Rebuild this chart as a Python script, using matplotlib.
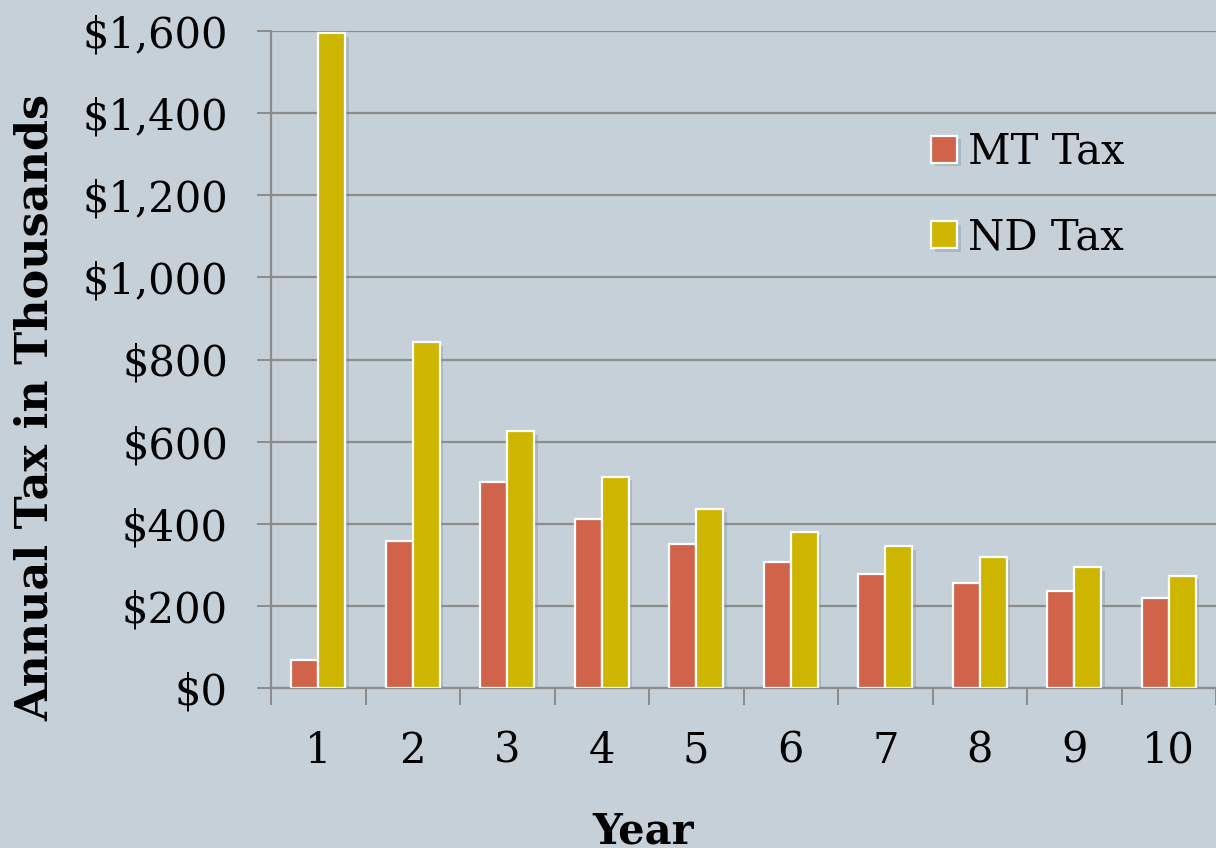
import numpy as np
import matplotlib
matplotlib.use("Agg")
import matplotlib.pyplot as plt
import matplotlib.patheffects as pe
from matplotlib.ticker import FuncFormatter, FixedLocator

years = [1, 2, 3, 4, 5, 6, 7, 8, 9, 10]
mt_tax = [69, 357, 502, 412, 350, 306, 278, 256, 236, 220]
nd_tax = [1595, 842, 625, 514, 436, 380, 345, 319, 294, 273]

bg = "#c5d0d8"
red = "#d2634b"
gold = "#cdb500"
grid_gray = "#8c8c8c"

plt.rcParams["font.family"] = ["DejaVu Serif"]

fig = plt.figure(figsize=(12.16, 8.48), dpi=100, facecolor=bg)
ax = fig.add_axes([271 / 1216, 160 / 848, 1 - 271 / 1216, (688 - 31) / 848])
ax.set_facecolor(bg)

x = np.arange(len(years))
w = 0.286
shadow = [pe.SimplePatchShadow(offset=(2.5, -2.5), shadow_rgbFace="#7f8a93", alpha=0.35), pe.Normal()]
ax.bar(x - w / 2, mt_tax, w, color=red, edgecolor="white", linewidth=1.6,
       label="MT Tax", zorder=3, path_effects=shadow)
ax.bar(x + w / 2, nd_tax, w, color=gold, edgecolor="white", linewidth=1.6,
       label="ND Tax", zorder=3, path_effects=shadow)

ax.set_xlim(-0.5, len(years) - 0.5)
ax.set_ylim(0, 1600)
ax.set_yticks(np.arange(0, 1601, 200))
ax.yaxis.set_major_formatter(FuncFormatter(lambda v, p: "${:,.0f}".format(v)))
ax.yaxis.grid(True, color=grid_gray, linewidth=1.6, zorder=0)
ax.set_axisbelow(True)

# year labels sit in the middle, tick marks sit between groups
ax.set_xticks(x)
ax.set_xticklabels([str(y) for y in years])
ax.xaxis.set_minor_locator(FixedLocator(np.arange(-0.5, len(years), 1.0)))
ax.tick_params(axis="x", which="major", length=0, pad=30, labelsize=30)
ax.tick_params(axis="x", which="minor", length=12, width=1.4, color=grid_gray)
ax.tick_params(axis="y", length=10, width=1.4, color=grid_gray, pad=21, labelsize=30)

for s in ["top", "right"]:
    ax.spines[s].set_visible(False)
for s in ["left", "bottom"]:
    ax.spines[s].set_color(grid_gray)
    ax.spines[s].set_linewidth(1.6)

ax.legend(loc="upper left", bbox_to_anchor=(0.659, 0.905), frameon=False,
          fontsize=30, handlelength=0.62, handleheight=0.62,
          handletextpad=0.25, labelspacing=1.05)

fig.text(35 / 1216, 0.52, "Annual Tax in Thousands", rotation=90, fontsize=32,
         fontweight="bold", ha="center", va="center")
fig.text(643 / 1216, 4 / 848, "Year", fontsize=30, fontweight="bold",
         ha="center", va="baseline")

fig.savefig("out.png", dpi=100, facecolor=bg)
